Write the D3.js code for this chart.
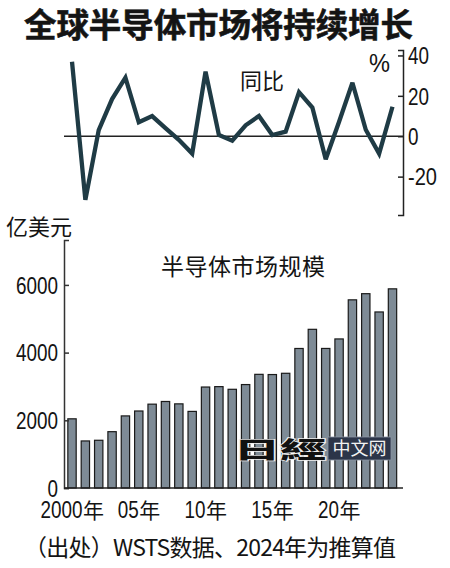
<!DOCTYPE html>
<html>
<head>
<meta charset="utf-8">
<script src="https://cdn.jsdelivr.net/npm/d3@7"></script>
<style>
  html, body { margin: 0; padding: 0; background: #fff; }
  svg { display: block; }
  .cjk { font-family: "Noto Sans CJK SC", sans-serif; fill: #141414; }
  .num { font-family: "Liberation Sans Narrow", "Liberation Sans", sans-serif; fill: #141414; }
</style>
</head>
<body>
<svg id="chart" width="450" height="568"></svg>
<script>
// ---- data ----
const years = [2000,2001,2002,2003,2004,2005,2006,2007,2008,2009,2010,2011,2012,
               2013,2014,2015,2016,2017,2018,2019,2020,2021,2022,2023,2024];
// Market size (100 million USD)
const marketSize = [2044,1390,1410,1664,2130,2275,2477,2556,2486,2263,2983,2995,2916,
                    3056,3358,3352,3389,4122,4688,4123,4404,5559,5741,5201,5884];
// Year-on-year growth (%)
const yoy = [36.9,-31.5,3.0,18.4,29.0,6.9,10.0,4.0,-1.8,-8.6,32.0,0.6,-2.2,
             5.4,10.0,0.6,2.3,21.8,14.2,-11.4,7.2,26.5,3.2,-8.6,14.6];
const barTicks = [0,2000,4000,6000];
const yoyTicks = [-20,0,20,40];
const xLabelYears = [2000,2005,2010,2015,2020];
const xLabelNums = ["2000","05","10","15","20"];

const DIGIT_W = 10.5, MINUS_W = 8;
const numWidth = s => s.split("").reduce((a,c) => a + (c === "-" ? MINUS_W : DIGIT_W), 0);

const svg = d3.select("#chart");

// Title
svg.append("text").attr("class","cjk")
  .attr("x", 24).attr("y", 37)
  .attr("font-size", 32.5).attr("font-weight", 700)
  .attr("textLength", 389).attr("lengthAdjust","spacing")
  .style("stroke","#141414").style("stroke-width",0.6)
  .text("全球半导体市场将持续增长");

// shared x scale
const x = d3.scaleBand().domain(years).range([64, 400.5])
  .paddingInner(0.3).paddingOuter(0.25);
const cx = d => x(d) + x.bandwidth()/2;

// ---- top: YoY line ----
const yTop = d3.scaleLinear().domain([-39, 42.7]).range([215, 50]);

svg.append("line").attr("x1", 64).attr("x2", 403)
  .attr("y1", yTop(0)).attr("y2", yTop(0))
  .attr("stroke", "#222").attr("stroke-width", 1.3);

const axTop = svg.append("g").attr("transform", "translate(403,0)")
  .call(d3.axisRight(yTop).tickValues(yoyTicks).tickSize(-5).tickPadding(5)
        .tickFormat(d => d < 0 ? "-" + Math.abs(d) : String(d)));
axTop.select(".domain").attr("stroke","#222").attr("stroke-width",1.5);
axTop.selectAll(".tick line").attr("stroke","#222").attr("stroke-width",1.5);
axTop.selectAll(".tick text").attr("class","num").attr("font-size",24)
  .attr("dy","0.34em")
  .attr("textLength", d => numWidth(d < 0 ? "-" + Math.abs(d) : String(d)))
  .attr("lengthAdjust","spacingAndGlyphs");

svg.append("text").attr("class","num").attr("x", 369).attr("y", 72)
  .attr("font-size", 25).attr("textLength",21).attr("lengthAdjust","spacingAndGlyphs")
  .text("%");
svg.append("text").attr("class","cjk").attr("x", 240).attr("y", 89)
  .attr("font-size", 22).text("同比");

const line = d3.line().x((d,i) => cx(years[i])).y(d => yTop(d));
svg.append("path").datum(yoy)
  .attr("d", line).attr("fill","none")
  .attr("stroke","#1f3b45").attr("stroke-width",4.3)
  .attr("stroke-linejoin","miter").attr("stroke-miterlimit",3);

// ---- bottom: market size bars ----
const yBar = d3.scaleLinear().domain([0, 7327]).range([488, 240]);

svg.append("text").attr("class","cjk").attr("x", 6).attr("y", 235)
  .attr("font-size", 22).text("亿美元");
svg.append("text").attr("class","cjk").attr("x", 161).attr("y", 275)
  .attr("font-size", 23).attr("textLength",164).attr("lengthAdjust","spacing")
  .text("半导体市场规模");

svg.append("g").selectAll("rect").data(marketSize).join("rect")
  .attr("x", (d,i) => x(years[i]) + 0.5)
  .attr("width", x.bandwidth() - 1)
  .attr("y", d => yBar(d))
  .attr("height", d => yBar(0) - yBar(d))
  .attr("fill", "#7e8b96")
  .attr("stroke", "#1a1a1a").attr("stroke-width", 1.2);

const axBar = svg.append("g").attr("transform","translate(64,0)")
  .call(d3.axisLeft(yBar).tickValues(barTicks).tickSize(-5).tickPadding(6)
        .tickFormat(d3.format("d")));
axBar.select(".domain").attr("stroke","#333").attr("stroke-width",1.5);
axBar.selectAll(".tick line").attr("stroke","#333").attr("stroke-width",1.5);
axBar.selectAll(".tick text").attr("class","num").attr("font-size",24)
  .attr("dy","0.34em")
  .attr("textLength", d => numWidth(String(d)))
  .attr("lengthAdjust","spacingAndGlyphs");

svg.append("line").attr("x1",64).attr("x2",403)
  .attr("y1",yBar(0)).attr("y2",yBar(0))
  .attr("stroke","#222").attr("stroke-width",1.6);

// x labels: condensed digits (scaled) + 年
const xl = svg.append("g");
const NEN_W = 21;
xLabelYears.forEach((yr,i) => {
  const s = xLabelNums[i];
  const w = numWidth(s);
  const x0 = cx(yr) - (w + NEN_W)/2;
  const g = xl.append("g");
  const t = g.append("text").attr("class","num").attr("x",0).attr("y",0)
    .attr("font-size", 24).text(s);
  const nat = t.node().getComputedTextLength() || w;
  g.attr("transform", `translate(${x0},518) scale(${w / nat},1)`);
  xl.append("text").attr("class","cjk").attr("x", x0 + w + 0.5).attr("y", 518)
    .attr("font-size", 21).text("年");
});

// watermark logo
const logo = svg.append("g");
logo.append("text").attr("class","cjk").attr("x",234).attr("y",458)
  .attr("font-size",23).attr("font-weight",900)
  .attr("textLength",92).attr("lengthAdjust","spacingAndGlyphs")
  .style("fill","#111").style("stroke","#eee").style("stroke-width",1.5)
  .style("paint-order","stroke")
  .text("日經");
logo.append("rect").attr("x",328).attr("y",437).attr("width",63).attr("height",23)
  .attr("fill","#2c3549").attr("stroke","#8a93a3").attr("stroke-width",0.8);
logo.append("text").attr("class","cjk").attr("x",359.5).attr("y",455)
  .attr("text-anchor","middle").attr("font-size",18)
  .style("fill","#f2f2f2").text("中文网");

// footer
svg.append("text").attr("class","cjk").attr("x", 24).attr("y", 556)
  .attr("font-size", 23).attr("textLength",372).attr("lengthAdjust","spacing")
  .text("（出处）WSTS数据、2024年为推算值");
</script>
</body>
</html>
